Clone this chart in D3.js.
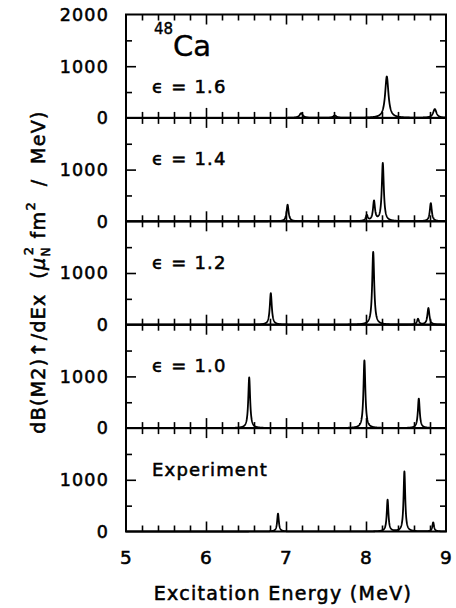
<!DOCTYPE html>
<html><head><meta charset="utf-8">
<script src="https://cdn.jsdelivr.net/npm/d3@7"></script>
<style>body{margin:0;background:#fff} svg{display:block}</style>
</head><body>
<svg id="c" width="456" height="608"></svg>
<script>
// ---- data ----
const xTickLabels = [5, 6, 7, 8, 9];
const yTickLabels = [0, 1000, 2000];
const panelLabels = ["\u03F5 = 1.6", "\u03F5 = 1.4", "\u03F5 = 1.2", "\u03F5 = 1.0", "Experiment"];
// peak energies (MeV) and peak heights (mu_N^2 fm^2 / MeV)
const eps16Energy = [7.19, 7.61, 8.26, 8.86];
const eps16Height = [90, 45, 800, 170];
const eps14Energy = [7.02, 8.01, 8.10, 8.21, 8.81];
const eps14Height = [320, 110, 380, 1120, 350];
const eps12Energy = [6.81, 8.09, 8.65, 8.78];
const eps12Height = [610, 1410, 110, 320];
const eps10Energy = [6.54, 7.98, 8.66];
const eps10Height = [980, 1310, 570];
const expEnergy = [6.90, 8.27, 8.48, 8.84];
const expHeight = [345, 610, 1160, 175];
const peakWidths = [0.05, 0.03, 0.03, 0.028, 0.025]; // FWHM (MeV)

const panels = [
  {E: eps16Energy, H: eps16Height},
  {E: eps14Energy, H: eps14Height},
  {E: eps12Energy, H: eps12Height},
  {E: eps10Energy, H: eps10Height},
  {E: expEnergy, H: expHeight}
];

// ---- layout ----
const svg = d3.select("#c");
const left = 126, right = 446, top0 = 14.5, ph = 103.4;
const x = d3.scaleLinear().domain([5, 9]).range([left, right]);
const majorX = [6, 7, 8];
const minorX = d3.range(5.2, 8.81, 0.2).filter(v => Math.abs(v - Math.round(v)) > 0.05);
const font = "'DejaVu Sans', sans-serif";
const styleText = sel => sel.attr("font-family", font).attr("stroke", "#000")
  .attr("stroke-width", 0.55).attr("fill", "#000");

panels.forEach((p, i) => {
  const t = top0 + i * ph, b = t + ph;
  const y = d3.scaleLinear().domain([0, 2000]).range([b, t]);
  const g = svg.append("g");

  // curve: Lorentzian-broadened lines
  const G = peakWidths[i] / 2;
  const xs = d3.range(5, 9.0001, 0.002).concat(p.E).sort((a, c) => a - c);
  const pts = xs.map(e => [e, d3.sum(p.E, (E, k) => p.H[k] * G * G / ((e - E) * (e - E) + G * G))]);
  g.append("path").datum(pts)
    .attr("d", d3.line().x(d => x(d[0])).y(d => y(d[1])))
    .attr("fill", "none").attr("stroke", "#000").attr("stroke-width", 1.8)
    .attr("stroke-linejoin", "round");

  // ticks using d3 axes (inward)
  const addAx = (axis, tr) => {
    const a = g.append("g").attr("transform", tr).call(axis);
    a.select(".domain").remove();
    a.selectAll("text").remove();
    a.selectAll("line").attr("stroke", "#000").attr("stroke-width", 1.6);
  };
  addAx(d3.axisBottom(x).tickValues(minorX).tickSize(-6), `translate(0,${b})`);
  addAx(d3.axisBottom(x).tickValues(majorX).tickSize(-10), `translate(0,${b})`);
  addAx(d3.axisTop(x).tickValues(minorX).tickSize(-6), `translate(0,${t})`);
  addAx(d3.axisTop(x).tickValues(majorX).tickSize(-10), `translate(0,${t})`);
  addAx(d3.axisLeft(y).tickValues([500, 1500]).tickSize(-6), `translate(${left},0)`);
  addAx(d3.axisLeft(y).tickValues([1000]).tickSize(-10), `translate(${left},0)`);
  addAx(d3.axisRight(y).tickValues([500, 1500]).tickSize(-6), `translate(${right},0)`);
  addAx(d3.axisRight(y).tickValues([1000]).tickSize(-10), `translate(${right},0)`);

  // frame
  g.append("rect").attr("x", left).attr("y", t).attr("width", right - left).attr("height", ph)
    .attr("fill", "none").attr("stroke", "#000").attr("stroke-width", 2);

  // y tick labels
  const labs = i === 0 ? yTickLabels : yTickLabels.slice(0, 2);
  g.selectAll("text.yl").data(labs).join("text")
    .attr("x", 109).attr("y", d => y(d)).attr("dy", "0.36em")
    .attr("text-anchor", "end").attr("font-size", 17.5).attr("letter-spacing", 1.2)
    .call(styleText).text(d => d);

  // panel label
  g.append("text").attr("x", 152).attr("y", i === 0 ? 93 : t + 47.5)
    .attr("font-size", 18).attr("letter-spacing", 1.2).attr("xml:space", "preserve")
    .call(styleText).text(panelLabels[i]);

  if (i === panels.length - 1) {
    g.selectAll("text.xl").data(xTickLabels).join("text")
      .attr("x", d => x(d)).attr("y", 564).attr("text-anchor", "middle")
      .attr("font-size", 18.5).call(styleText)
      .text(d => d);
  }
});

// nucleus label
const nuc = svg.append("text").attr("x", 154).attr("y", 56).attr("font-family", font)
  .attr("stroke", "#000").attr("stroke-width", 0.4);
nuc.append("tspan").attr("font-size", 15).attr("dy", -22).text("48");
nuc.append("tspan").attr("font-size", 29).attr("dy", 22).text("Ca");

// x title
svg.append("text").attr("x", 283).attr("y", 600).attr("text-anchor", "middle")
  .attr("font-size", 19).attr("letter-spacing", 1.3)
  .call(styleText)
  .text("Excitation Energy (MeV)");

// y title
const yt = svg.append("text").attr("transform", "translate(45,272) rotate(-90)")
  .attr("text-anchor", "middle").attr("font-size", 19).attr("letter-spacing", 1.3)
  .call(styleText).attr("xml:space", "preserve");
yt.append("tspan").text("dB(M2)\u2191/dEx  (");
yt.append("tspan").attr("font-style", "italic").text("\u03BC");
yt.append("tspan").attr("font-size", 12).attr("dy", 5).text("N");
yt.append("tspan").attr("font-size", 13).attr("dx", -9).attr("dy", -17).text("2");
yt.append("tspan").attr("dy", 12).text(" fm");
yt.append("tspan").attr("font-size", 13).attr("dy", -10).text("2");
yt.append("tspan").attr("dy", 10).text("  /  MeV)");
</script></body></html>
